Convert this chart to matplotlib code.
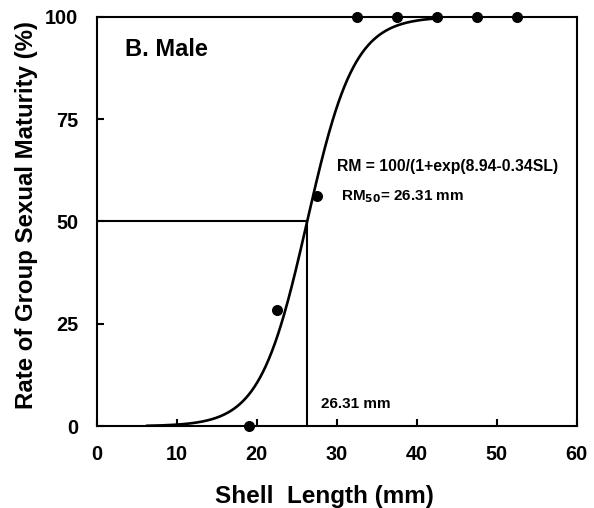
import numpy as np
import matplotlib
matplotlib.use("Agg")
import matplotlib.pyplot as plt

plt.rcParams["font.family"] = ["Liberation Sans", "DejaVu Sans"]
plt.rcParams["font.weight"] = "bold"

# observed points
shell_len = [19.0, 22.5, 27.5, 32.5, 37.5, 42.5, 47.5, 52.5]
maturity = [0.0, 28.5, 56.2, 100.0, 100.0, 100.0, 100.0, 100.0]

# fitted logistic from the figure: RM = 100/(1+exp(a - b*SL))
a, b = 8.94, 0.34
sl50 = 26.31
curve_from, curve_to = 6.3, 43.0

xs = np.linspace(curve_from, curve_to, 300)
rm = 100 / (1 + np.exp(a - b * xs))

fig = plt.figure(figsize=(5.94, 5.08), dpi=100)
ax = fig.add_axes([0.163, 0.161, 0.808, 0.806])

ax.plot(xs, rm, color="black", lw=1.9, zorder=2)
ax.plot([0, sl50], [50, 50], color="black", lw=1.5, zorder=2)
ax.plot([sl50, sl50], [0, 50], color="black", lw=1.5, zorder=2)
ax.scatter(shell_len, maturity, s=48, color="black", zorder=3, clip_on=False)

ax.set_xlim(0, 60)
ax.set_ylim(0, 100)
ax.set_xticks([0, 10, 20, 30, 40, 50, 60])
ax.set_yticks([0, 25, 50, 75, 100])
ax.tick_params(direction="in", length=5, width=1.5, labelsize=14.3, pad=13.5)
for lab in ax.get_xticklabels() + ax.get_yticklabels():
    lab.set_fontweight("bold")
for sp in ax.spines.values():
    sp.set_linewidth(1.5)

ax.set_xlabel("Shell  Length (mm)", fontsize=17.5, fontweight="bold", va="center")
ax.set_ylabel("Rate of Group Sexual Maturity (%)", fontsize=17.3, fontweight="bold", va="center")
ax.xaxis.set_label_coords(0.475, -0.171)
ax.yaxis.set_label_coords(-0.146, 0.516)

ax.text(3.5, 92, "B. Male", fontsize=17, fontweight="bold", va="center")
ax.text(30.0, 63.5, "RM = 100/(1+exp(8.94-0.34SL)", fontsize=11.3, fontweight="bold", va="center")
ax.text(30.5, 56.0, "RM$_{\\mathbf{50}}$= 26.31 mm", fontsize=11, fontweight="bold", va="center")
ax.text(28.0, 5.5, "26.31 mm", fontsize=11, fontweight="bold", va="center")

fig.savefig("out.png", dpi=100)
